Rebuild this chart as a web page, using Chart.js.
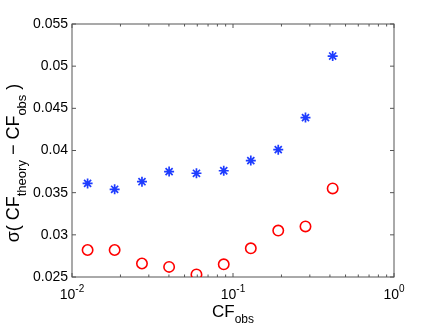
<!DOCTYPE html>
<html>
<head>
<meta charset="utf-8">
<script src="https://cdn.jsdelivr.net/npm/chart.js@4/dist/chart.umd.min.js"></script>
<style>
  html, body { margin: 0; padding: 0; background: #fff; }
  canvas { display: block; }
</style>
</head>
<body>
<canvas id="plot" width="436" height="328"></canvas>
<script>
// values
const cfObs = [0.0125, 0.0184, 0.0272, 0.0401, 0.0593, 0.0876, 0.129, 0.191, 0.282, 0.416];
const sigmaStar = [0.0361, 0.0354, 0.0363, 0.0375, 0.0373, 0.0376, 0.0388, 0.0401, 0.0439, 0.0512];
const sigmaCircle = [0.0282, 0.0282, 0.0266, 0.0262, 0.0253, 0.0265, 0.0284, 0.0305, 0.0310, 0.0355];

const yTicks = [0.025, 0.03, 0.035, 0.04, 0.045, 0.05, 0.055];
const yTickLabels = ["0.025", "0.03", "0.035", "0.04", "0.045", "0.05", "0.055"];
const xMajor = [0.01, 0.1, 1];
const xMajorExp = ["-2", "-1", "0"];

const FONT = '"Liberation Sans", Arial, Helvetica, sans-serif';
const AXIS = "#555";

// draw text made of pieces, some of them sub/superscript, centred on x=0
function richText(ctx, parts, size) {
  const widths = parts.map(p => {
    ctx.font = (p.sub || p.sup ? Math.round(size * 0.7) : size) + "px " + FONT;
    return ctx.measureText(p.t).width;
  });
  let x = -widths.reduce((a, b) => a + b, 0) / 2;
  parts.forEach((p, i) => {
    ctx.font = (p.sub || p.sup ? Math.round(size * 0.7) : size) + "px " + FONT;
    const dy = p.sub ? size * 0.38 : p.sup ? -size * 0.5 : 0;
    ctx.fillText(p.t, x, dy);
    x += widths[i];
  });
}

const frame = {
  id: "frame",
  beforeDatasetsDraw(chart) {
    const { ctx, chartArea: a, scales } = chart;
    const xs = scales.x, ys = scales.y;
    ctx.save();
    ctx.strokeStyle = AXIS;
    ctx.lineWidth = 1;
    ctx.strokeRect(a.left, a.top, a.right - a.left, a.bottom - a.top);

    ctx.beginPath();
    yTicks.forEach(v => {
      const y = ys.getPixelForValue(v);
      ctx.moveTo(a.left, y); ctx.lineTo(a.left + 4, y);
      ctx.moveTo(a.right, y); ctx.lineTo(a.right - 4, y);
    });
    xMajor.forEach(v => {
      const x = xs.getPixelForValue(v);
      ctx.moveTo(x, a.bottom); ctx.lineTo(x, a.bottom - 4);
      ctx.moveTo(x, a.top); ctx.lineTo(x, a.top + 4);
    });
    [0.01, 0.1].forEach(d => {
      for (let k = 2; k <= 9; k++) {
        const x = xs.getPixelForValue(d * k);
        ctx.moveTo(x, a.bottom); ctx.lineTo(x, a.bottom - 2.5);
        ctx.moveTo(x, a.top); ctx.lineTo(x, a.top + 2.5);
      }
    });
    ctx.stroke();

    ctx.fillStyle = "#000";
    ctx.textBaseline = "middle";
    ctx.textAlign = "right";
    ctx.font = "14px " + FONT;
    yTicks.forEach((v, i) => {
      ctx.fillText(yTickLabels[i], a.left - 4, ys.getPixelForValue(v));
    });

    ctx.textBaseline = "alphabetic";
    ctx.textAlign = "left";
    xMajor.forEach((v, i) => {
      ctx.save();
      ctx.translate(xs.getPixelForValue(v), 299);
      richText(ctx, [{ t: "10" }, { t: xMajorExp[i], sup: true }], 14);
      ctx.restore();
    });

    ctx.save();
    ctx.translate((a.left + a.right) / 2, 317);
    richText(ctx, [{ t: "CF" }, { t: "obs", sub: true }], 17);
    ctx.restore();

    ctx.save();
    ctx.translate(19, 163);
    ctx.rotate(-Math.PI / 2);
    richText(ctx, [
      { t: "\u03c3( CF" }, { t: "theory", sub: true },
      { t: " \u2212 CF" }, { t: "obs", sub: true }, { t: " )" }
    ], 18);
    ctx.restore();
    ctx.restore();
  }
};

new Chart(document.getElementById("plot"), {
  type: "scatter",
  data: {
    datasets: [
      {
        data: cfObs.map((x, i) => ({ x, y: sigmaStar[i] })),
        pointStyle: "star",
        radius: 5,
        borderWidth: 1.7,
        borderColor: "rgb(30,60,255)",
        backgroundColor: "rgb(30,60,255)"
      },
      {
        data: cfObs.map((x, i) => ({ x, y: sigmaCircle[i] })),
        pointStyle: "circle",
        radius: 5.2,
        borderWidth: 1.6,
        borderColor: "#ff0000",
        backgroundColor: "rgba(0,0,0,0)"
      }
    ]
  },
  options: {
    responsive: false,
    animation: false,
    layout: { padding: { top: 24, right: 42, left: 0, bottom: 0 } },
    plugins: { legend: { display: false }, tooltip: { enabled: false } },
    scales: {
      x: {
        type: "logarithmic", min: 0.01, max: 1,
        grid: { display: false }, border: { display: false },
        ticks: { display: false },
        afterFit: s => { s.height = 51; }
      },
      y: {
        min: 0.025, max: 0.055,
        grid: { display: false }, border: { display: false },
        ticks: { display: false },
        afterFit: s => { s.width = 72; }
      }
    }
  },
  plugins: [frame]
});
</script>
</body>
</html>
